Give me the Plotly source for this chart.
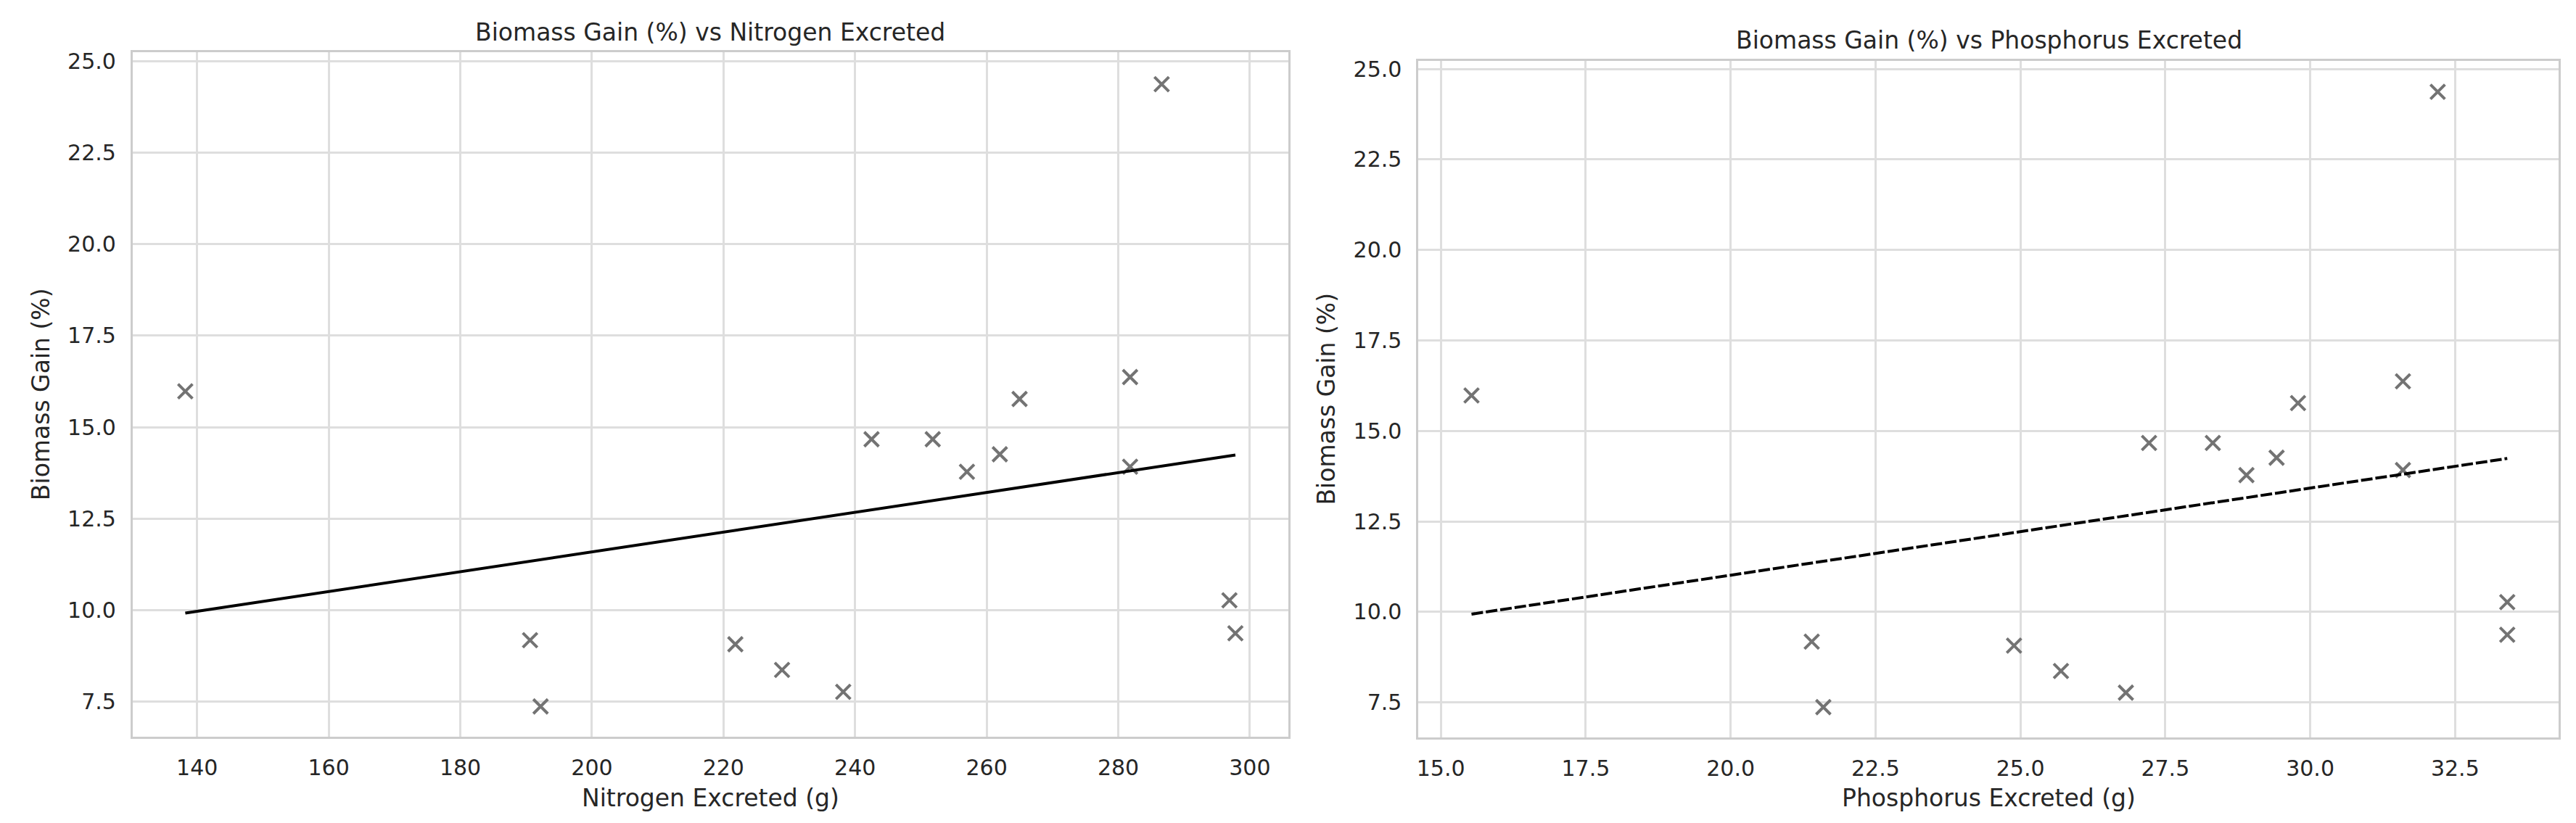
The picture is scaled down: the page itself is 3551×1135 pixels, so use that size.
import plotly.graph_objects as go

# ---- data ----
nitrogen_g = [138.2, 190.6, 192.2, 221.8, 228.9, 238.2, 242.5, 251.8, 257.0, 262.0, 265.0, 281.8, 281.8, 286.6, 296.9, 297.8]
phosphorus_g = [15.53, 21.40, 21.60, 24.89, 25.70, 26.82, 27.22, 28.32, 28.90, 29.42, 29.79, 31.60, 31.60, 32.20, 33.40, 33.40]
biomass_gain = [15.98, 9.18, 7.37, 9.07, 8.37, 7.77, 14.67, 14.67, 13.78, 14.26, 15.77, 16.37, 13.92, 24.37, 10.27, 9.37]

# fitted trend lines (end points)
trend_n_x = [138.2, 297.8]
trend_n_y = [9.92, 14.24]
trend_p_x = [15.53, 33.40]
trend_p_y = [9.94, 14.24]

x_ticks_n = [140, 160, 180, 200, 220, 240, 260, 280, 300]
x_ticks_p = [15.0, 17.5, 20.0, 22.5, 25.0, 27.5, 30.0, 32.5]
y_ticks = [7.5, 10.0, 12.5, 15.0, 17.5, 20.0, 22.5, 25.0]

W, H = 3551, 1135
FONT = "DejaVu Sans"
TXT = "#262626"
GRID = "#dedede"
SPINE = "#cccccc"
MARK = "#737373"

fig = go.Figure()

fig.add_trace(go.Scatter(x=nitrogen_g, y=biomass_gain, mode="markers", xaxis="x", yaxis="y",
                         marker=dict(symbol="x-thin", size=20, line=dict(width=4, color=MARK), color=MARK),
                         showlegend=False))
fig.add_trace(go.Scatter(x=trend_n_x, y=trend_n_y, mode="lines", xaxis="x", yaxis="y",
                         line=dict(color="black", width=4), showlegend=False))
fig.add_trace(go.Scatter(x=phosphorus_g, y=biomass_gain, mode="markers", xaxis="x2", yaxis="y2",
                         marker=dict(symbol="x-thin", size=20, line=dict(width=4, color=MARK), color=MARK),
                         showlegend=False))
fig.add_trace(go.Scatter(x=trend_p_x, y=trend_p_y, mode="lines", xaxis="x2", yaxis="y2",
                         line=dict(color="black", width=4, dash="16px,4px"), showlegend=False))

def px_x(p):
    return p / W

def px_y(p):
    return 1 - p / H

axis_common = dict(showgrid=True, gridcolor=GRID, gridwidth=2.5, zeroline=False,
                   showline=True, linecolor=SPINE, linewidth=3, mirror=True,
                   ticks="outside", ticklen=14, tickcolor="rgba(0,0,0,0)",
                   tickfont=dict(family=FONT, size=30, color=TXT))

fig.update_layout(
    width=W, height=H,
    margin=dict(l=0, r=0, t=0, b=0),
    paper_bgcolor="white", plot_bgcolor="white",
    xaxis=dict(domain=[px_x(172), px_x(1766)], range=[130.2, 305.8], tickvals=x_ticks_n,
               ticktext=[str(v) for v in x_ticks_n], anchor="y", **axis_common),
    yaxis=dict(domain=[px_y(1007), px_y(58)], range=[6.55, 25.25], tickvals=y_ticks,
               ticktext=[f"{v:.1f}" for v in y_ticks], anchor="x", **axis_common),
    xaxis2=dict(domain=[px_x(1946), px_x(3519)], range=[14.615, 34.286], tickvals=x_ticks_p,
                ticktext=[f"{v:.1f}" for v in x_ticks_p], anchor="y2", **axis_common),
    yaxis2=dict(domain=[px_y(1008), px_y(70)], range=[6.54, 25.23], tickvals=y_ticks,
                ticktext=[f"{v:.1f}" for v in y_ticks], anchor="x2", **axis_common),
)

ann = [
    dict(text="Biomass Gain (%) vs Nitrogen Excreted", x=px_x(969), y=px_y(31), size=33),
    dict(text="Biomass Gain (%) vs Phosphorus Excreted", x=px_x(2733), y=px_y(42), size=33),
    dict(text="Nitrogen Excreted (g)", x=px_x(969), y=px_y(1092), size=33),
    dict(text="Phosphorus Excreted (g)", x=px_x(2733), y=px_y(1092), size=33),
    dict(text="Biomass Gain (%)", x=px_x(45), y=px_y(532), size=33, angle=-90),
    dict(text="Biomass Gain (%)", x=px_x(1819), y=px_y(539), size=33, angle=-90),
]
for a in ann:
    fig.add_annotation(text=a["text"], x=a["x"], y=a["y"], xref="paper", yref="paper",
                       xanchor="center", yanchor="middle", showarrow=False,
                       textangle=a.get("angle", 0),
                       font=dict(family=FONT, size=a["size"], color=TXT))

fig.write_html("out.html")
